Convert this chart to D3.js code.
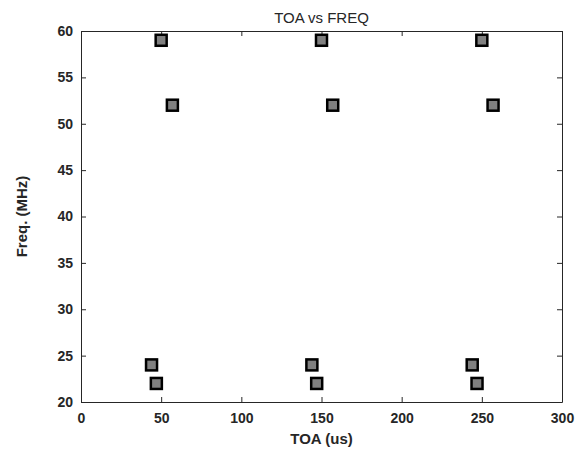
<!DOCTYPE html>
<html lang="en">
<head>
<meta charset="UTF-8">
<title>TOA vs FREQ</title>
<style>
  body { margin: 0; background: #fff; }
  svg text { font-family: "Liberation Sans", Arial, sans-serif; fill: #262626; }
</style>
</head>
<body>
<svg id="svg"></svg>
<script src="https://d3js.org/d3.v7.min.js"></script>
<script>
// data
const toa  = [50, 57, 150, 157, 250, 257, 44, 47, 144, 147, 244, 247];
const freq = [59, 52, 59, 52, 59, 52, 24, 22, 24, 22, 24, 22];
const xTicks = [0, 50, 100, 150, 200, 250, 300];
const yTicks = [20, 25, 30, 35, 40, 45, 50, 55, 60];

const width = 588, height = 450;
const margin = {top: 31, left: 81, bottom: 48, right: 26};
const innerW = width - margin.left - margin.right;
const innerH = height - margin.top - margin.bottom;

const svg = d3.select("#svg").attr("width", width).attr("height", height);
const g = svg.append("g").attr("transform", `translate(${margin.left},${margin.top})`);

const x = d3.scaleLinear().domain([0, 300]).range([0, innerW]);
const y = d3.scaleLinear().domain([20, 60]).range([innerH, 0]);

// axes, ticks pointing inward like matlab
const axisColor = "#262626";
const xAxis = g.append("g").attr("transform", `translate(0,${innerH})`)
  .call(d3.axisBottom(x).tickValues(xTicks).tickSizeInner(-5).tickSizeOuter(0).tickPadding(11));
const yAxis = g.append("g")
  .call(d3.axisLeft(y).tickValues(yTicks).tickSizeInner(-5).tickSizeOuter(0).tickPadding(8));
const xTop = g.append("g")
  .call(d3.axisTop(x).tickValues(xTicks).tickSizeInner(-5).tickSizeOuter(0).tickFormat(""));
const yRight = g.append("g").attr("transform", `translate(${innerW},0)`)
  .call(d3.axisRight(y).tickValues(yTicks).tickSizeInner(-5).tickSizeOuter(0).tickFormat(""));

[xAxis, yAxis, xTop, yRight].forEach(a => {
  a.select(".domain").attr("stroke", axisColor).attr("stroke-width", 1);
  a.selectAll(".tick line").attr("stroke", axisColor);
  a.selectAll(".tick text")
    .style("font-family", '"Liberation Sans", Arial, sans-serif')
    .style("font-size", "14px").style("font-weight", "bold").attr("fill", axisColor);
});

// markers
const s = 11;
g.append("g").selectAll("rect")
  .data(toa.map((t, i) => [t, freq[i]]))
  .join("rect")
  .attr("x", d => x(d[0]) - s / 2)
  .attr("y", d => y(d[1]) - s / 2)
  .attr("width", s).attr("height", s)
  .attr("fill", "#808080")
  .attr("stroke", "#000")
  .attr("stroke-width", 2.5);

// title & labels
svg.append("text")
  .attr("x", margin.left + innerW / 2).attr("y", margin.top - 8)
  .attr("text-anchor", "middle").style("font-size", "15px")
  .text("TOA vs FREQ");

svg.append("text")
  .attr("x", margin.left + innerW / 2).attr("y", 444)
  .attr("text-anchor", "middle").style("font-size", "15px").style("font-weight", "bold")
  .text("TOA (us)");

svg.append("text")
  .attr("transform", `translate(27,${margin.top + innerH / 2}) rotate(-90)`)
  .attr("text-anchor", "middle").style("font-size", "15px").style("font-weight", "bold")
  .text("Freq. (MHz)");
</script>
</body>
</html>
